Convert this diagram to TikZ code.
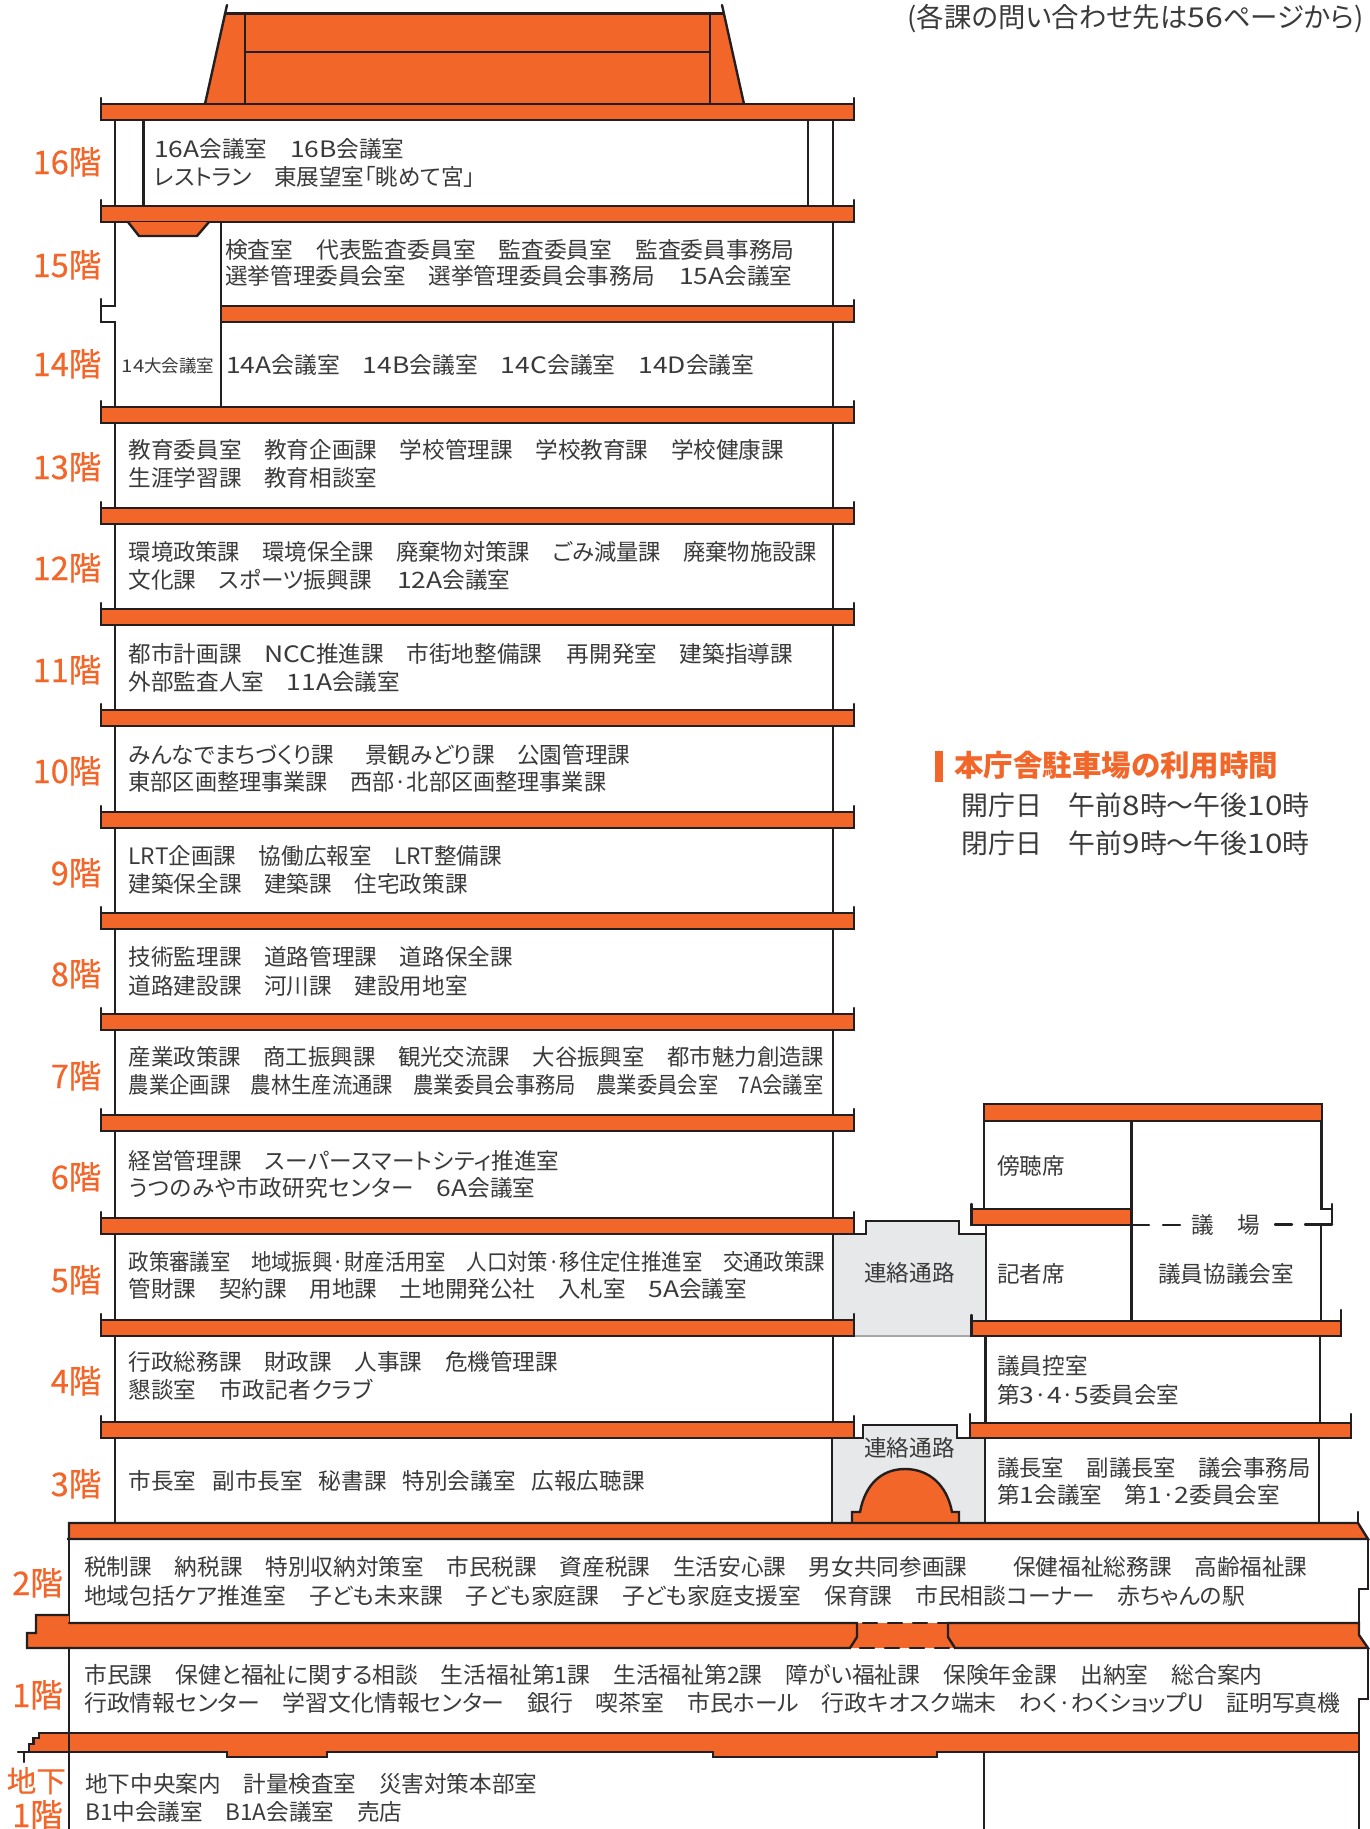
\documentclass[tikz,border=0pt]{standalone}
\usepackage{fontspec}
\setmainfont{Noto Sans CJK JP}[RawFeature={+palt}]
\newcommand{\lt}[1]{{\addfontfeature{FakeStretch=1.17}#1}}
\newcommand{\ks}[1]{{\addfontfeature{LetterSpace=2.4}#1}}
\definecolor{org}{HTML}{F36629}
\definecolor{ink}{HTML}{231F20}
\definecolor{txtc}{HTML}{3A3A3A}
\definecolor{passage}{HTML}{E7E8EA}
\tikzset{
  wall/.style={draw=ink,line width=2.4pt,line cap=round,line join=miter},
  slab/.style={draw=ink,fill=org,line width=2.4pt,line join=miter},
  roomtext/.style={anchor=west,inner sep=0pt,text=txtc,font=\fontsize{22.6}{26}\selectfont,text height=20pt,text depth=3pt},
  roomcenter/.style={roomtext,anchor=center},
  stretched/.style={font=\fontsize{22.6}{26}\selectfont\addfontfeature{FakeStretch=#1}},
  floorlabel/.style={anchor=east,inner sep=0pt,text=org,font=\fontsize{32.5}{36}\selectfont\addfontfeature{FakeBold=0.5},text height=28pt,text depth=4pt},
}
\newcommand{\mainband}[1]{%
  \draw[slab] (101,#1) rectangle (854,#1+16);
  \draw[wall] (101,#1-6) -- (101,#1);
  \draw[wall] (854,#1-6) -- (854,#1);
}
\begin{document}
\begin{tikzpicture}[x=1pt,y=-1pt]
\useasboundingbox (0,0) rectangle (1370,1829);
% roof
\fill[org] (225,13.5) -- (723.5,13.5) -- (744,104) -- (205,104) -- cycle;
\draw[wall] (227,5) -- (205,104);
\draw[wall] (722,5) -- (744,104);
\draw[wall] (225,13.5) -- (723.5,13.5);
\draw[wall] (245,13.5) -- (245,104);
\draw[wall] (710,13.5) -- (710,104);
\draw[wall] (245,52) -- (710,52);
% passages (behind everything)
\fill[passage] (832,1234) -- (866,1234) -- (866,1221) -- (959,1221) -- (959,1234) -- (986,1234) -- (986,1320) -- (971.5,1320) -- (971.5,1336) -- (854,1336) -- (854,1320) -- (832,1320) -- cycle;
\draw[line width=1.2pt,draw=gray!70] (854,1336) -- (971.5,1336);
\draw[wall] (854,1234) -- (866,1234) -- (866,1221) -- (959,1221) -- (959,1234) -- (986,1234);
\fill[passage] (831,1438) -- (863,1438) -- (863,1425) -- (957,1425) -- (957,1438) -- (985,1438) -- (985,1523) -- (831,1523) -- cycle;
\draw[wall] (854,1438) -- (863,1438) -- (863,1425) -- (957,1425) -- (957,1438) -- (970,1438);
% tower walls
\foreach \a/\b in {121/206,423/508,524/609,625/710,726/812,828/913,929/1014,1030/1115,1131/1218,1234/1320,1336/1422}{
  \draw[wall] (833,\a) -- (833,\b);
  \draw[wall] (115,\a) -- (115,\b);
}
\draw[wall] (115,1438) -- (115,1523);
\draw[wall] (832,1438) -- (832,1523);
% 16F inner walls
\draw[wall] (143.5,121) -- (143.5,206);
\draw[wall] (808,121) -- (808,206);
% 15F/14F walls
\draw[wall] (115,222) -- (115,306) -- (101,306) -- (101,322) -- (115,322) -- (115,407);
\draw[wall] (101,299) -- (101,306);
\draw[wall] (221,222) -- (221,407);
\draw[wall] (833,222) -- (833,407);
% tower slabs
\foreach \t in {104,206,407,508,609,710,812,913,1014,1115,1218,1320,1422}{\mainband{\t}}
\draw[slab] (128,222) -- (139,236) -- (197,236) -- (209,222);
\draw[slab] (221,306) rectangle (854,322);
\draw[wall] (854,300) -- (854,306);
% hall
\draw[slab] (984,1104) rectangle (1322,1121);
\draw[wall] (984,1121) -- (984,1209);
\draw[wall] (1131.5,1121) -- (1131.5,1322);
\draw[wall] (1321.5,1121) -- (1321.5,1209) -- (1332,1209);
\draw[wall] (1332,1204) -- (1332,1224);
\draw[slab] (971.5,1209) rectangle (1131.5,1225);
\draw[wall] (971.5,1204) -- (971.5,1209);
\draw[wall] (1131.5,1225) -- (1149,1225);
\draw[wall] (1163,1225) -- (1180,1225);
\draw[wall] (1275,1224.5) -- (1292,1224.5);
\draw[wall] (1305,1224.5) -- (1332,1224.5);
\draw[wall] (1321,1224.5) -- (1321,1322);
\draw[wall] (986,1225) -- (986,1322);
\draw[slab] (971.5,1321) rectangle (1341,1336);
\draw[wall] (971.5,1315) -- (971.5,1321);
\draw[wall] (1341,1310) -- (1341,1321);
\draw[wall] (985.5,1336) -- (985.5,1422);
\draw[wall] (1320,1336) -- (1320,1422);
\draw[slab] (970,1423) rectangle (1351,1438);
\draw[wall] (970,1414) -- (970,1423);
\draw[wall] (1351,1414) -- (1351,1423);
\draw[wall] (985,1438) -- (985,1523);
\draw[wall] (1319,1438) -- (1319,1523);
% dome
\draw[slab] (852,1523) -- (852,1512) -- (860,1512) .. controls (865,1485) and (881,1469) .. (905,1469) .. controls (929,1469) and (947,1485) .. (952,1512) -- (959,1512) -- (959,1523);
% 3F floor slab
\draw[slab] (69,1523) -- (1358,1523) -- (1368,1539) -- (67,1539) -- (69,1539) -- cycle;
\draw[wall] (1358,1512) -- (1358,1523);
% 2F walls
\draw[wall] (69,1539) -- (69,1623);
\draw[wall] (1368,1539) -- (1368,1589) -- (1359,1589) -- (1359,1623);
% 2F floor slab
\fill[org] (36,1615) -- (69,1615) -- (69,1623) -- (1359,1623) -- (1359,1635) -- (1368,1648) -- (27,1648) -- (27,1633) -- (36,1633) -- cycle;
\draw[wall] (69,1615) -- (36,1615) -- (36,1633) -- (27,1633) -- (27,1648) -- (850,1648) -- (857,1637) -- (857,1623) -- (69,1623);
\draw[wall] (948,1623) -- (948,1637) -- (955,1648) -- (1368,1648) -- (1359,1635) -- (1359,1623) -- cycle;
\draw[wall,dashed,dash pattern=on 14pt off 11pt] (863,1623) -- (948,1623);
\draw[wall,dashed,dash pattern=on 14pt off 11pt] (860,1648) -- (950,1648);
% 1F walls
\draw[wall] (1368,1648) -- (1368,1699) -- (1359,1699) -- (1359,1829);
% B1 slab
\draw[slab] (39,1733) -- (39,1738) -- (33.5,1738) -- (33.5,1744) -- (29,1744) -- (29,1752) -- (227,1752) -- (227,1757) -- (327,1757) -- (327,1752) -- (713,1752) -- (713,1757) -- (937,1757) -- (937,1752) -- (1359,1752) -- (1359,1733) -- cycle;
\draw[wall] (18,1752) -- (29,1752);
\draw[wall] (24,1752) -- (24,1762);
\draw[wall] (69,1648) -- (69,1829);
\draw[wall] (984,1752) -- (984,1829);
% floor labels
\node[floorlabel] (f16) at (101.5,162) {16階};
\node[floorlabel] (f15) at (101.5,265) {15階};
\node[floorlabel] (f14) at (101.5,364) {14階};
\node[floorlabel] (f13) at (101.5,467) {13階};
\node[floorlabel] (f12) at (101.5,568) {12階};
\node[floorlabel] (f11) at (101.5,670) {11階};
\node[floorlabel] (f10) at (101.5,771) {10階};
\node[floorlabel] (f9) at (101.5,873) {9階};
\node[floorlabel] (f8) at (101.5,974) {8階};
\node[floorlabel] (f7) at (101.5,1076) {7階};
\node[floorlabel] (f6) at (101.5,1177) {6階};
\node[floorlabel] (f5) at (101.5,1280) {5階};
\node[floorlabel] (f4) at (101.5,1381) {4階};
\node[floorlabel] (f3) at (101.5,1484) {3階};
\node[floorlabel] (f2) at (63,1583) {2階};
\node[floorlabel] (f1) at (63,1695) {1階};
\node[floorlabel,font=\fontsize{29.5}{34}\selectfont\addfontfeature{FakeBold=0.5}] (fb) at (66,1780) {地下};
\node[floorlabel] (fb1) at (63,1815) {1階};
% room text
\node[roomtext] (t16a) at (154,149) {\lt{16A}会議室　\lt{16B}会議室};
\node[roomtext] (t16b) at (154,177) {レストラン　東展望室「眺めて宮」};
\node[roomtext,stretched=1.008] (t15a) at (225,250) {検査室　代表監査委員室　監査委員室　監査委員事務局};
\node[roomtext] (t15b) at (225,276) {選挙管理委員会室　選挙管理委員会事務局　\hspace*{2pt}\lt{15A}会議室};
\node[roomcenter,font=\fontsize{17.5}{22}\selectfont] (t14big) at (168,364) {\lt{14}大会議室};
\node[roomtext,stretched=1.01] (t14) at (226,365) {\lt{14A}会議室　\lt{14B}会議室　\lt{14C}会議室　\lt{14D}会議室};
\node[roomtext] (t13a) at (128.5,450) {教育委員室　教育企画課　学校管理課　学校教育課　学校健康課};
\node[roomtext] (t13b) at (128.5,478) {生涯学習課　教育相談室};
\node[roomtext,stretched=0.987] (t12a) at (128.5,552) {環境政策課　環境保全課　廃棄物対策課　ごみ減量課　廃棄物施設課};
\node[roomtext] (t12b) at (128.5,580) {文化課　スポーツ振興課　\hspace*{3pt}\lt{12A}会議室};
\node[roomtext] (t11a) at (128.5,654) {都市計画課　\lt{NCC}推進課　市街地整備課　\hspace*{2pt}再開発室　建築指導課};
\node[roomtext] (t11b) at (128.5,682) {外部監査人室　\lt{11A}会議室};
\node[roomtext] (t10a) at (128.5,755) {みんなでまちづくり課　\hspace*{8pt}景観みどり課　公園管理課};
\node[roomtext,stretched=0.98] (t10b) at (128.5,782) {東部区画整理事業課　西部·北部区画整理事業課};
\node[roomtext] (t9a) at (128.5,856) {LRT企画課　協働広報室　LRT整備課};
\node[roomtext] (t9b) at (128.5,884) {建築保全課　建築課　住宅政策課};
\node[roomtext] (t8a) at (128.5,957) {技術監理課　道路管理課　道路保全課};
\node[roomtext] (t8b) at (128.5,986) {道路建設課　河川課　建設用地室};
\node[roomtext,stretched=0.993] (t7a) at (128.5,1057) {産業政策課　商工振興課　観光交流課　大谷振興室　都市魅力創造課};
\node[roomtext,stretched=0.9] (t7b) at (128.5,1085) {農業企画課　農林生産流通課　農業委員会事務局　農業委員会室　7A会議室};
\node[roomtext] (t6a) at (128.5,1161) {経営管理課　\ks{スーパースマートシティ}推進室};
\node[roomtext] (t6b) at (128.5,1188) {\ks{うつのみや市政研究センター}　\lt{6A}会議室};
\node[roomtext,stretched=0.903] (t5a) at (128.5,1262) {政策審議室　地域振興·財産活用室　人口対策·移住定住推進室　交通政策課};
\node[roomtext] (t5b) at (128.5,1289) {管財課　契約課　用地課　土地開発公社　入札室　\lt{5A}会議室};
\node[roomtext] (t4a) at (128.5,1362) {行政総務課　財政課　人事課　危機管理課};
\node[roomtext] (t4b) at (128.5,1390) {懇談室　\ks{市政記者クラブ}};
\node[roomtext] (t3) at (128.5,1481) {市長室\hspace*{16pt}副市長室\hspace*{16pt}秘書課\hspace*{16pt}特別会議室\hspace*{16pt}広報広聴課};
\node[roomtext,font=\fontsize{22.65}{26}\selectfont] (t2a) at (84,1567) {税制課　納税課　特別収納対策室　市民税課　資産税課　生活安心課　男女共同参画課　\hspace*{23pt}保健福祉総務課　高齢福祉課};
\node[roomtext,stretched=1.008] (t2b) at (84,1596) {地域包括ケア推進室　子ども未来課　子ども家庭課　子ども家庭支援室　保育課　市民相談コーナー　赤ちゃんの駅};
\node[roomtext,stretched=1.009] (t1a) at (84,1675) {市民課　保健と福祉に関する相談　生活福祉第1課　生活福祉第2課　障がい福祉課　保険年金課　出納室　総合案内};
\node[roomtext,stretched=1.011] (t1b) at (84,1703) {行政情報センター　学習文化情報センター　銀行　喫茶室　市民ホール　行政キオスク端末　わく·わくショップU　証明写真機};
\node[roomtext] (tb1) at (85,1784) {地下中央案内　計量検査室　災害対策本部室};
\node[roomtext] (tb2) at (85,1812) {B1中会議室　B1A会議室　売店};
% hall text
\node[roomtext] (h1) at (997,1166) {傍聴席};
\node[roomtext] (h2) at (997,1274) {記者席};
\node[roomcenter] (h3) at (1226,1274) {議員協議会室};
\node[roomcenter] (h4) at (1203,1225) {議};
\node[roomcenter] (h5) at (1249,1225) {場};
\node[roomtext] (h6) at (997,1366) {議員控室};
\node[roomtext] (h7) at (997,1395) {第\lt{3}·\lt{4}·\lt{5}委員会室};
\node[roomtext,stretched=0.99] (h8) at (997,1468) {議長室　副議長室　議会事務局};
\node[roomtext] (h9) at (997,1495) {第\lt{1}会議室　第\lt{1}·\lt{2}委員会室};
\node[roomcenter] (c1) at (909.5,1273) {連絡通路};
\node[roomcenter] (c2) at (909.5,1448) {連絡通路};
% notes
\node[roomtext,anchor=east,font=\fontsize{27.4}{32}\selectfont] (n0) at (1364,19) {(各課の問い合わせ先は\lt{56}ページから)};
\fill[org] (935,751) rectangle (943,782);
\node[roomtext,font=\bfseries\fontsize{29.5}{34}\selectfont,text=org] (n1) at (954,768) {本庁舎駐車場の利用時間};
\node[roomtext,font=\fontsize{26.9}{32}\selectfont] (n2) at (961,807) {開庁日　午前\lt{8}時～午後\lt{10}時};
\node[roomtext,font=\fontsize{26.9}{32}\selectfont] (n3) at (961,845) {閉庁日　午前\lt{9}時～午後\lt{10}時};
\end{tikzpicture}
\end{document}
